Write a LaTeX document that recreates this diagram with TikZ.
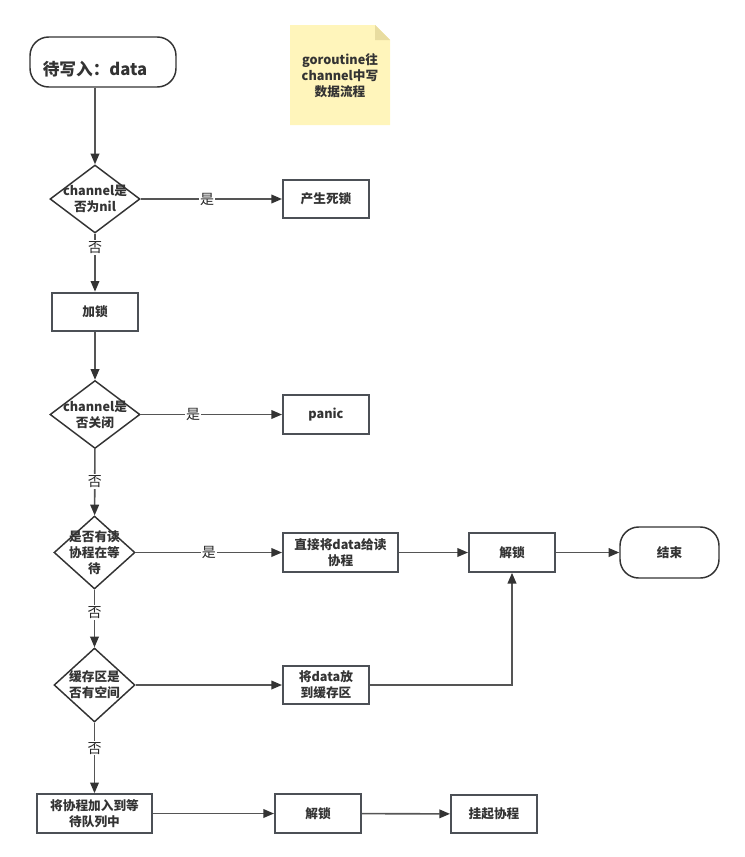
\documentclass[tikz,border=0pt]{standalone}
\usepackage{fontspec}
\setmainfont{Noto Sans CJK SC}
\definecolor{linegray}{RGB}{85, 85, 85}
\definecolor{boxgray}{RGB}{76, 80, 86}
\definecolor{textgray}{RGB}{51, 51, 51}
\definecolor{notefill}{RGB}{255, 245, 187}
\definecolor{notefold}{RGB}{232, 220, 160}
\usetikzlibrary{positioning, shapes.geometric, arrows.meta}

\begin{document}
\begin{tikzpicture}[x=0.75pt, y=-0.75pt,
		proc/.style={draw=boxgray, line width=1.5pt, text=textgray, font=\bfseries\fontsize{9.5}{12}\selectfont, align=center, minimum width=64.5pt, minimum height=29pt, inner sep=1pt},
		wideproc/.style={proc, minimum width=86.25pt},
		decide/.style={diamond, draw=textgray, line width=1.1pt, minimum width=67.5pt, minimum height=51pt, inner sep=0pt},
		dtext/.style={text=textgray, font=\bfseries\fontsize{9.5}{12}\selectfont, align=center},
		term/.style={draw=textgray, line width=1.1pt, rounded corners=14pt, text=textgray, font=\bfseries\fontsize{9.5}{12}\selectfont, minimum width=74.25pt, minimum height=38.25pt},
		startlabel/.style={text=textgray, font=\bfseries\fontsize{12.5}{15}\selectfont, xshift=-6pt, yshift=-5pt},
		flow/.style={draw=linegray, line width=1.2pt, -{Triangle[length=8pt, width=6.5pt, color=textgray]}},
		yn/.style={fill=white, text=black!85, font=\fontsize{10.5}{12}\selectfont, inner sep=1pt}
		]
		\useasboundingbox (0,0) rectangle (744,857);
		
		% note
		\fill[notefill] (290,25) -- (375,25) -- (390,40) -- (390,125) -- (290,125) -- cycle;
		\fill[notefold] (375,25) -- (375,40) -- (390,40) -- cycle;
		\node[dtext] (note) at (340,76) {goroutine往\\channel中写\\数据流程};
		
		% main column
		\node[term, minimum width=109.5pt, minimum height=37.5pt, label={[startlabel]center:待写入：data}] (start) at (103,62) {};
		\node[decide, label={[dtext]center:channel是\\否为nil}] (nil) at (95,199) {};
		\node[proc] (lock) at (95,312) {加锁};
		\node[decide, label={[dtext]center:channel是\\否关闭}] (closed) at (95,414.5) {};
		\node[decide, minimum width=60.75pt, minimum height=54.75pt, label={[dtext]center:是否有读\\协程在等\\待}] (reader) at (94.5,552.5) {};
		\node[decide, minimum width=60.75pt, minimum height=55.5pt, label={[dtext]center:缓存区是\\否有空间}] (space) at (94.5,685) {};
		\node[wideproc] (enqueue) at (94.5,813.5) {将协程加入到等\\待队列中};
		
		% right side
		\node[proc] (deadlock) at (326,199) {产生死锁};
		\node[proc] (panic) at (326,414.5) {panic};
		\node[wideproc] (direct) at (340.5,552.5) {直接将data给读\\协程};
		\node[proc] (unlock) at (512,552.5) {解锁};
		\node[term] (finish) at (669.5,552.5) {结束};
		\node[proc] (buffer) at (326,685) {将data放\\到缓存区};
		\node[proc] (unlockb) at (318,813.5) {解锁};
		\node[proc] (park) at (494,814) {挂起协程};
		
		\draw[flow] (start.south -| nil.north) -- (nil.north);
		\draw[flow] (nil) -- node[yn, pos=0.24]{否} (lock);
		\draw[flow] (nil) -- node[yn, pos=0.47]{是} (deadlock);
		\draw[flow] (lock) -- (closed);
		\draw[flow] (closed) -- node[yn, pos=0.37]{是} (panic);
		\draw[flow] (closed) -- node[yn, pos=0.49]{否} (reader);
		\draw[flow] (reader) -- node[yn, pos=0.5]{是} (direct);
		\draw[flow] (reader) -- node[yn, pos=0.39]{否} (space);
		\draw[flow] (direct) -- (unlock);
		\draw[flow] (unlock) -- (finish);
		\draw[flow] (space) -- (buffer);
		\draw[flow] (buffer.east) -| (unlock.south);
		\draw[flow] (space) -- node[yn, pos=0.36]{否} (enqueue);
		\draw[flow] (enqueue) -- (unlockb);
		\draw[flow] (unlockb) -- (park);
	\end{tikzpicture}
\end{document}
